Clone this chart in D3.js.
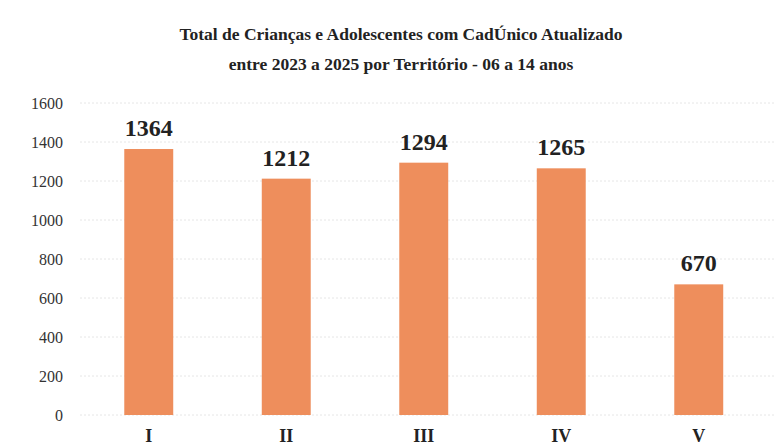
<!DOCTYPE html>
<html>
<head>
<meta charset="utf-8">
<script src="https://cdn.jsdelivr.net/npm/d3@7"></script>
<style>
  body { margin: 0; background: #fff; }
</style>
</head>
<body>
<div class="chart"></div>
<script>
var territorios = ["I", "II", "III", "IV", "V"];
var totais = [1364, 1212, 1294, 1265, 670];
var yTicks = [0, 200, 400, 600, 800, 1000, 1200, 1400, 1600];
var titulo = ["Total de Crianças e Adolescentes com CadÚnico Atualizado",
              "entre 2023 a 2025 por Território  - 06 a 14 anos"];

var w = 779, h = 446;
var serif = "Liberation Serif, Times New Roman, serif";

var svg = d3.select("div.chart")
    .append("svg")
    .attr("width", w)
    .attr("height", h)
    .attr("font-family", serif);

// x: band scale, bar centres ~137px apart
var x = d3.scaleBand()
    .domain(territorios)
    .range([80, 767.5])
    .paddingInner(0.644)
    .paddingOuter(0.322);

var y = d3.scaleLinear()
    .domain([0, 1600])
    .range([415, 103]);

// faint gridlines
svg.append("g")
    .selectAll("line")
    .data(yTicks)
    .join("line")
    .attr("x1", 80)
    .attr("x2", 776)
    .attr("y1", d => y(d))
    .attr("y2", d => y(d))
    .attr("stroke", "#e6e6e6")
    .attr("stroke-width", 1)
    .attr("stroke-dasharray", "2,2");

// y axis labels only
var yAxis = svg.append("g")
    .attr("transform", "translate(63,0)")
    .call(d3.axisLeft(y).tickValues(yTicks).tickSize(0).tickPadding(0).tickFormat(d3.format("d")));
yAxis.attr("font-family", serif).attr("font-size", 16);
yAxis.select(".domain").remove();
yAxis.selectAll("text")
    .attr("font-family", serif)
    .attr("fill", "#333");

// bars
svg.append("g")
    .selectAll("rect")
    .data(totais)
    .join("rect")
    .attr("x", (d, i) => x(territorios[i]))
    .attr("y", d => y(d))
    .attr("width", x.bandwidth())
    .attr("height", d => y(0) - y(d))
    .attr("fill", "#EE8E5C");

// value labels
svg.append("g")
    .selectAll("text")
    .data(totais)
    .join("text")
    .attr("x", (d, i) => x(territorios[i]) + x.bandwidth() / 2)
    .attr("y", d => y(d) - 13)
    .attr("text-anchor", "middle")
    .attr("font-family", serif)
    .attr("font-size", 24)
    .attr("font-weight", "bold")
    .attr("fill", "#222")
    .text(d => d);

// x axis labels
var xAxis = svg.append("g")
    .attr("transform", "translate(0,429)")
    .call(d3.axisBottom(x).tickSize(0).tickPadding(0));
xAxis.attr("font-family", serif).attr("font-size", 18);
xAxis.select(".domain").remove();
xAxis.selectAll("text")
    .attr("font-family", serif)
    .attr("font-weight", "bold")
    .attr("fill", "#222");

// title
svg.append("g")
    .selectAll("text")
    .data(titulo)
    .join("text")
    .attr("x", 401)
    .attr("y", (d, i) => 40 + i * 30)
    .attr("text-anchor", "middle")
    .attr("font-family", serif)
    .attr("font-size", 17.5)
    .attr("font-weight", "bold")
    .attr("fill", "#222")
    .text(d => d);
</script>
</body>
</html>
